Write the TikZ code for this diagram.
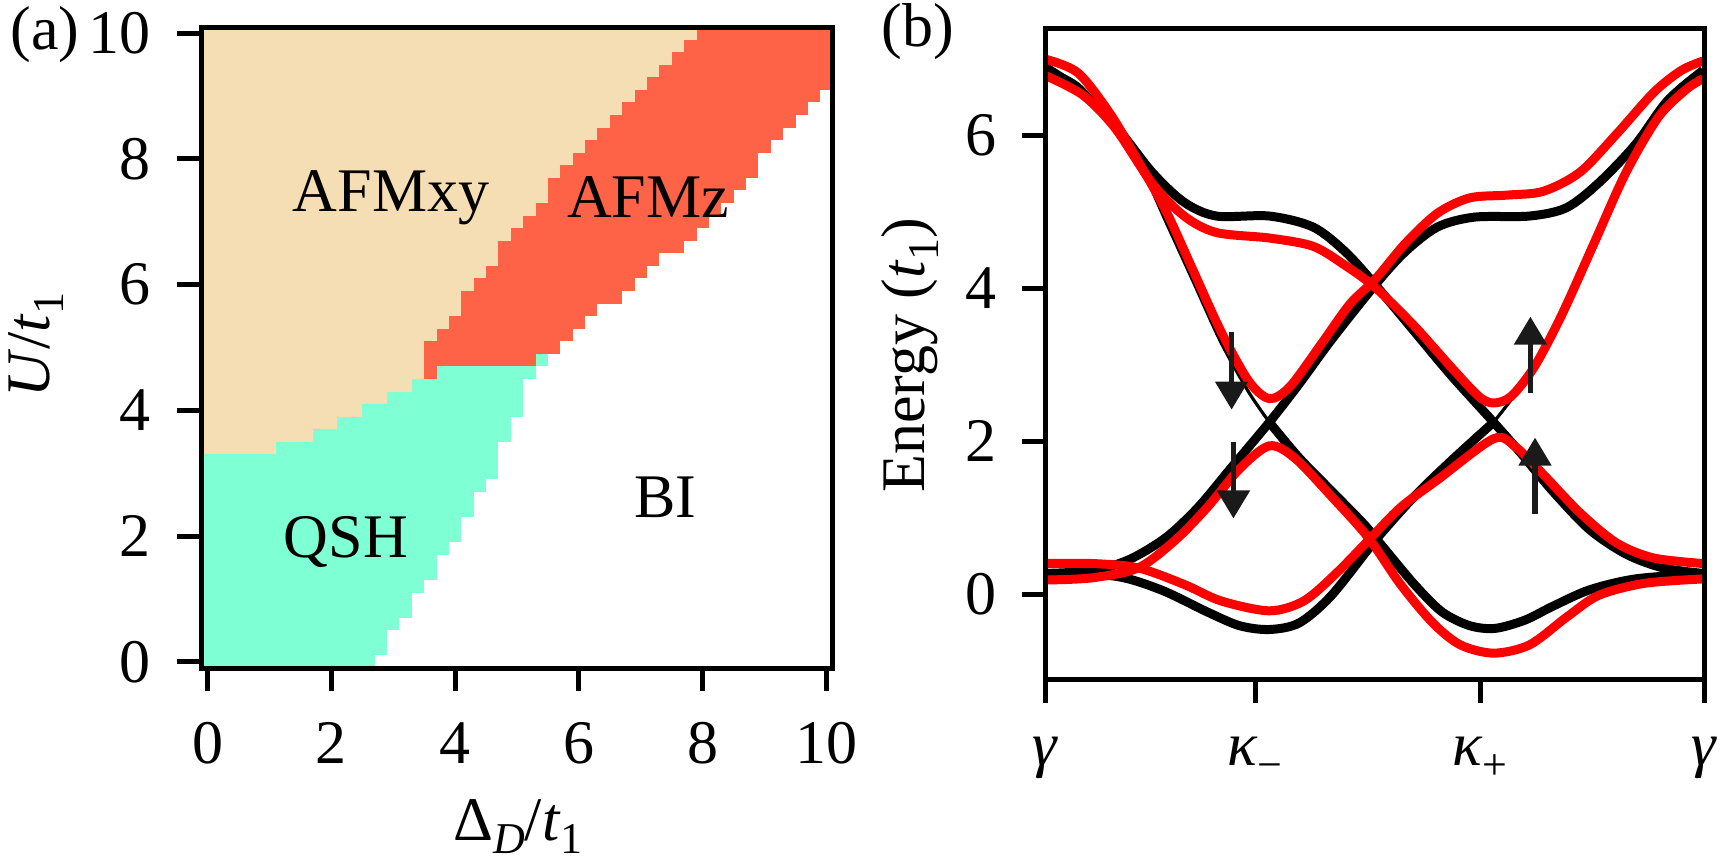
\documentclass[tikz,border=0pt]{standalone}
\usepackage{fontspec}
\setmainfont{Liberation Serif}
\usetikzlibrary{arrows.meta}
\definecolor{afmxy}{HTML}{F5DEB3}
\definecolor{afmz}{HTML}{FF6347}
\definecolor{qsh}{HTML}{7FFFD4}
\definecolor{bandred}{HTML}{FF0000}
\definecolor{arrowgray}{HTML}{1A1A1A}
\newcommand\sbs[1]{\raisebox{-0.22em}{\fontsize{22}{22}\selectfont #1}}
\tikzset{
  lbl/.style={font=\fontsize{31}{31}\selectfont, inner sep=0pt},
  spine/.style={line width=2.5pt, line cap=rect},
  tck/.style={line width=2.5pt},
  thickband/.style={line width=4.5pt},
  thinband/.style={line width=1.6pt},
  spinarrow/.style={arrowgray, line width=2.6pt, -{Triangle[width=16pt,length=14pt]}},
}
\begin{document}
\begin{tikzpicture}[x=0.5pt,y=-0.5pt]
\useasboundingbox (0,0) rectangle (1722,864);
% ---------------- panel (a) ----------------
\begin{scope}[shift={(207.5,661.7)}, xscale=61.9, yscale=-62.84]
\foreach \i in {0,...,50}{
  \pgfmathsetmacro\U{0.2*\i}
  \pgfmathsetmacro\lo{\U-0.1}
  \pgfmathsetmacro\hi{\U+0.103}
  \pgfmathsetmacro\er{(\U<2.1) ? (2.7+0.657*\U) : ((\U<3.1) ? (4.08+0.6*(\U-2.1)) : (4.68+0.39*(\U-3.1)))}
  \pgfmathsetmacro\e{0.2*round((\er-0.1)/0.2)+0.1}
  \pgfmathsetmacro\ar{(\U<6.8) ? (3.5+0.737*(\U-4.9)) : ((\U<8.4) ? (4.9+0.875*(\U-6.8)) : (6.3+(\U-8.4)))}
  \pgfmathsetmacro\a{0.2*round((\ar-0.1)/0.2)+0.1}
  \pgfmathsetmacro\br{(\U<6.8) ? (5.5+1.26*(\U-4.9)) : ((\U<9.1) ? (7.9+0.91*(\U-6.8)) : 10.1)}
  \pgfmathsetmacro\b{min(10.1,0.2*round((\br-0.1)/0.2)+0.1)}
  \ifnum\i<17
    \fill[qsh] (-0.1,\lo) rectangle (\e,\hi);
  \else\ifnum\i<23
    \pgfmathsetmacro\t{{1.1,1.7,2.1,2.5,2.9,3.3}[\i-17]}
    \fill[afmxy] (-0.1,\lo) rectangle (\t,\hi);
    \fill[qsh] (\t,\lo) rectangle (\e,\hi);
  \else\ifnum\i=23
    \fill[afmxy] (-0.1,\lo) rectangle (3.5,\hi);
    \fill[afmz] (3.5,\lo) rectangle (3.7,\hi);
    \fill[qsh] (3.7,\lo) rectangle (\e,\hi);
  \else\ifnum\i=24
    \fill[afmxy] (-0.1,\lo) rectangle (3.5,\hi);
    \fill[afmz] (3.5,\lo) rectangle (5.3,\hi);
    \fill[qsh] (5.3,\lo) rectangle (5.5,\hi);
  \else
    \fill[afmxy] (-0.1,\lo) rectangle (\a,\hi);
    \fill[afmz] (\a,\lo) rectangle (\b,\hi);
  \fi\fi\fi\fi
}
\fill[white] (-0.1,10.1) rectangle (10.3,10.4);
\draw[spine] (-0.1,-0.1) rectangle (10.1,10.1);
\foreach \v in {0,2,...,10}{
  \draw[tck] (\v,-0.1) -- ++(0,-0.37);
  \node[lbl] (xl\v) at (\v,-1.3) {\v};
  \draw[tck] (-0.1,\v) -- ++(-0.39,0);
  \node[lbl, anchor=east] (yl\v) at (-0.92,\v) {\v};
}
\end{scope}
\node[lbl] (afmxy) at (391,198) {AFMxy};
\node[lbl] (afmzlab) at (648,197) {AFMz};
\node[lbl] (qshlab) at (346,542) {QSH};
\node[lbl] (bilab) at (665,497) {BI};
\node[lbl] (pa) at (45,35) {(a)};
\node[lbl, rotate=90] (ylab) at (36,345) {\textit{U}/\textit{t}\sbs{1}};
\node[lbl, anchor=base] (xlab) at (518,840) {Δ\sbs{\textit{D}}/\textit{t}\sbs{1}};
% ---------------- panel (b) ----------------
\begin{scope}[shift={(1000,1.61)}, xscale=0.4604, yscale=0.5498]
\begin{scope}
\clip (100,48) rectangle (1527,1232);
% black bands
\draw[thinband] plot[smooth,tension=0.5] coordinates {(100,120) (170,150) (240,215) (300,290) (360,400) (420,510) (480,620) (540,710) (585,765)};
\draw[thickband] plot[smooth,tension=0.5] coordinates {(585,765) (650,830) (720,890) (790,950) (830,990) (900,1060) (960,1110) (1020,1135) (1075,1140) (1140,1125) (1200,1100) (1280,1070) (1380,1050) (1527,1040)};
\draw[thickband] plot[smooth,tension=0.5] coordinates {(100,1040) (200,1035) (280,1015) (360,975) (430,920) (500,850) (585,765) (650,695) (720,615) (815,515) (880,455) (950,410) (1030,392) (1150,390) (1230,375) (1300,330) (1380,260) (1450,180) (1527,125)};
\draw[thickband] plot[smooth,tension=0.5] coordinates {(100,120) (170,160) (250,225) (330,310) (400,365) (470,390) (585,390) (680,410) (750,455) (815,515) (900,600) (980,680) (1072,765) (1130,820) (1200,890) (1280,960) (1360,1005) (1440,1030) (1527,1040)};
\draw[thickband] plot[smooth,tension=0.5] coordinates {(100,1040) (250,1045) (350,1070) (450,1110) (520,1135) (585,1142) (650,1130) (720,1080) (815,980) (900,900) (980,835) (1072,765)};
\draw[thinband] plot[smooth,tension=0.5] coordinates {(1072,765) (1140,690) (1200,600) (1280,470) (1350,330) (1420,210) (1480,150) (1527,125)};
% red bands
\draw[thickband,bandred] plot[smooth,tension=0.5] coordinates {(100,105) (170,130) (240,205) (300,290) (360,380) (420,490) (480,600) (540,690) (585,722) (630,700) (700,620) (760,550) (815,505) (880,440) (950,385) (1020,357) (1100,352) (1180,345) (1260,310) (1340,240) (1420,165) (1480,125) (1527,108)};
\draw[thickband,bandred] plot[smooth,tension=0.5] coordinates {(100,135) (180,170) (250,230) (330,330) (400,390) (470,420) (585,430) (680,445) (750,480) (815,520) (900,590) (980,665) (1040,718) (1072,730) (1110,718) (1160,665) (1220,570) (1290,440) (1360,310) (1430,210) (1490,160) (1527,140)};
\draw[thickband,bandred] plot[smooth,tension=0.5] coordinates {(100,1052) (200,1048) (300,1030) (380,980) (450,920) (520,850) (585,808) (640,830) (720,900) (800,975) (870,1060) (940,1130) (1000,1170) (1072,1185) (1150,1170) (1230,1120) (1300,1080) (1400,1058) (1527,1050)};
\draw[thickband,bandred] plot[smooth,tension=0.5] coordinates {(100,1022) (200,1022) (300,1030) (400,1060) (480,1090) (585,1108) (660,1090) (730,1040) (800,980) (870,920) (950,870) (1072,795) (1120,810) (1180,860) (1260,930) (1340,985) (1420,1012) (1527,1022)};
\end{scope}
% spin arrows
\coordinate (d1s) at (503,600); \coordinate (d1e) at (503,742);
\coordinate (d2s) at (507,800); \coordinate (d2e) at (507,940);
\coordinate (u1s) at (1152,712); \coordinate (u1e) at (1152,573);
\coordinate (u2s) at (1162,932); \coordinate (u2e) at (1162,793);
\draw[spinarrow] (d1s) -- (d1e);
\draw[spinarrow] (d2s) -- (d2e);
\draw[spinarrow] (u1s) -- (u1e);
\draw[spinarrow] (u2s) -- (u2e);
\end{scope}
\draw[spine] (1045,28) rectangle (1704,679);
\foreach \k/\lab in {1045/\textit{γ},1255/\textit{κ}\sbs{−},1480/\textit{κ}\sbs{+},1704/\textit{γ}}{
  \draw[tck] (\k,679) -- (\k,703);
  \node[lbl] at (\k,758) {\lab};
}
\foreach \E in {0,2,4,6}{
  \draw[tck] (1045,594-76.5*\E) -- (1022,594-76.5*\E);
  \node[lbl, anchor=east] (el\E) at (997,594-76.5*\E) {\E};
}
\node[lbl] (pb) at (918,32) {(b)};
\node[lbl, rotate=90] (elab) at (910,355) {Energy (\textit{t}\sbs{1})};
\end{tikzpicture}
\end{document}
